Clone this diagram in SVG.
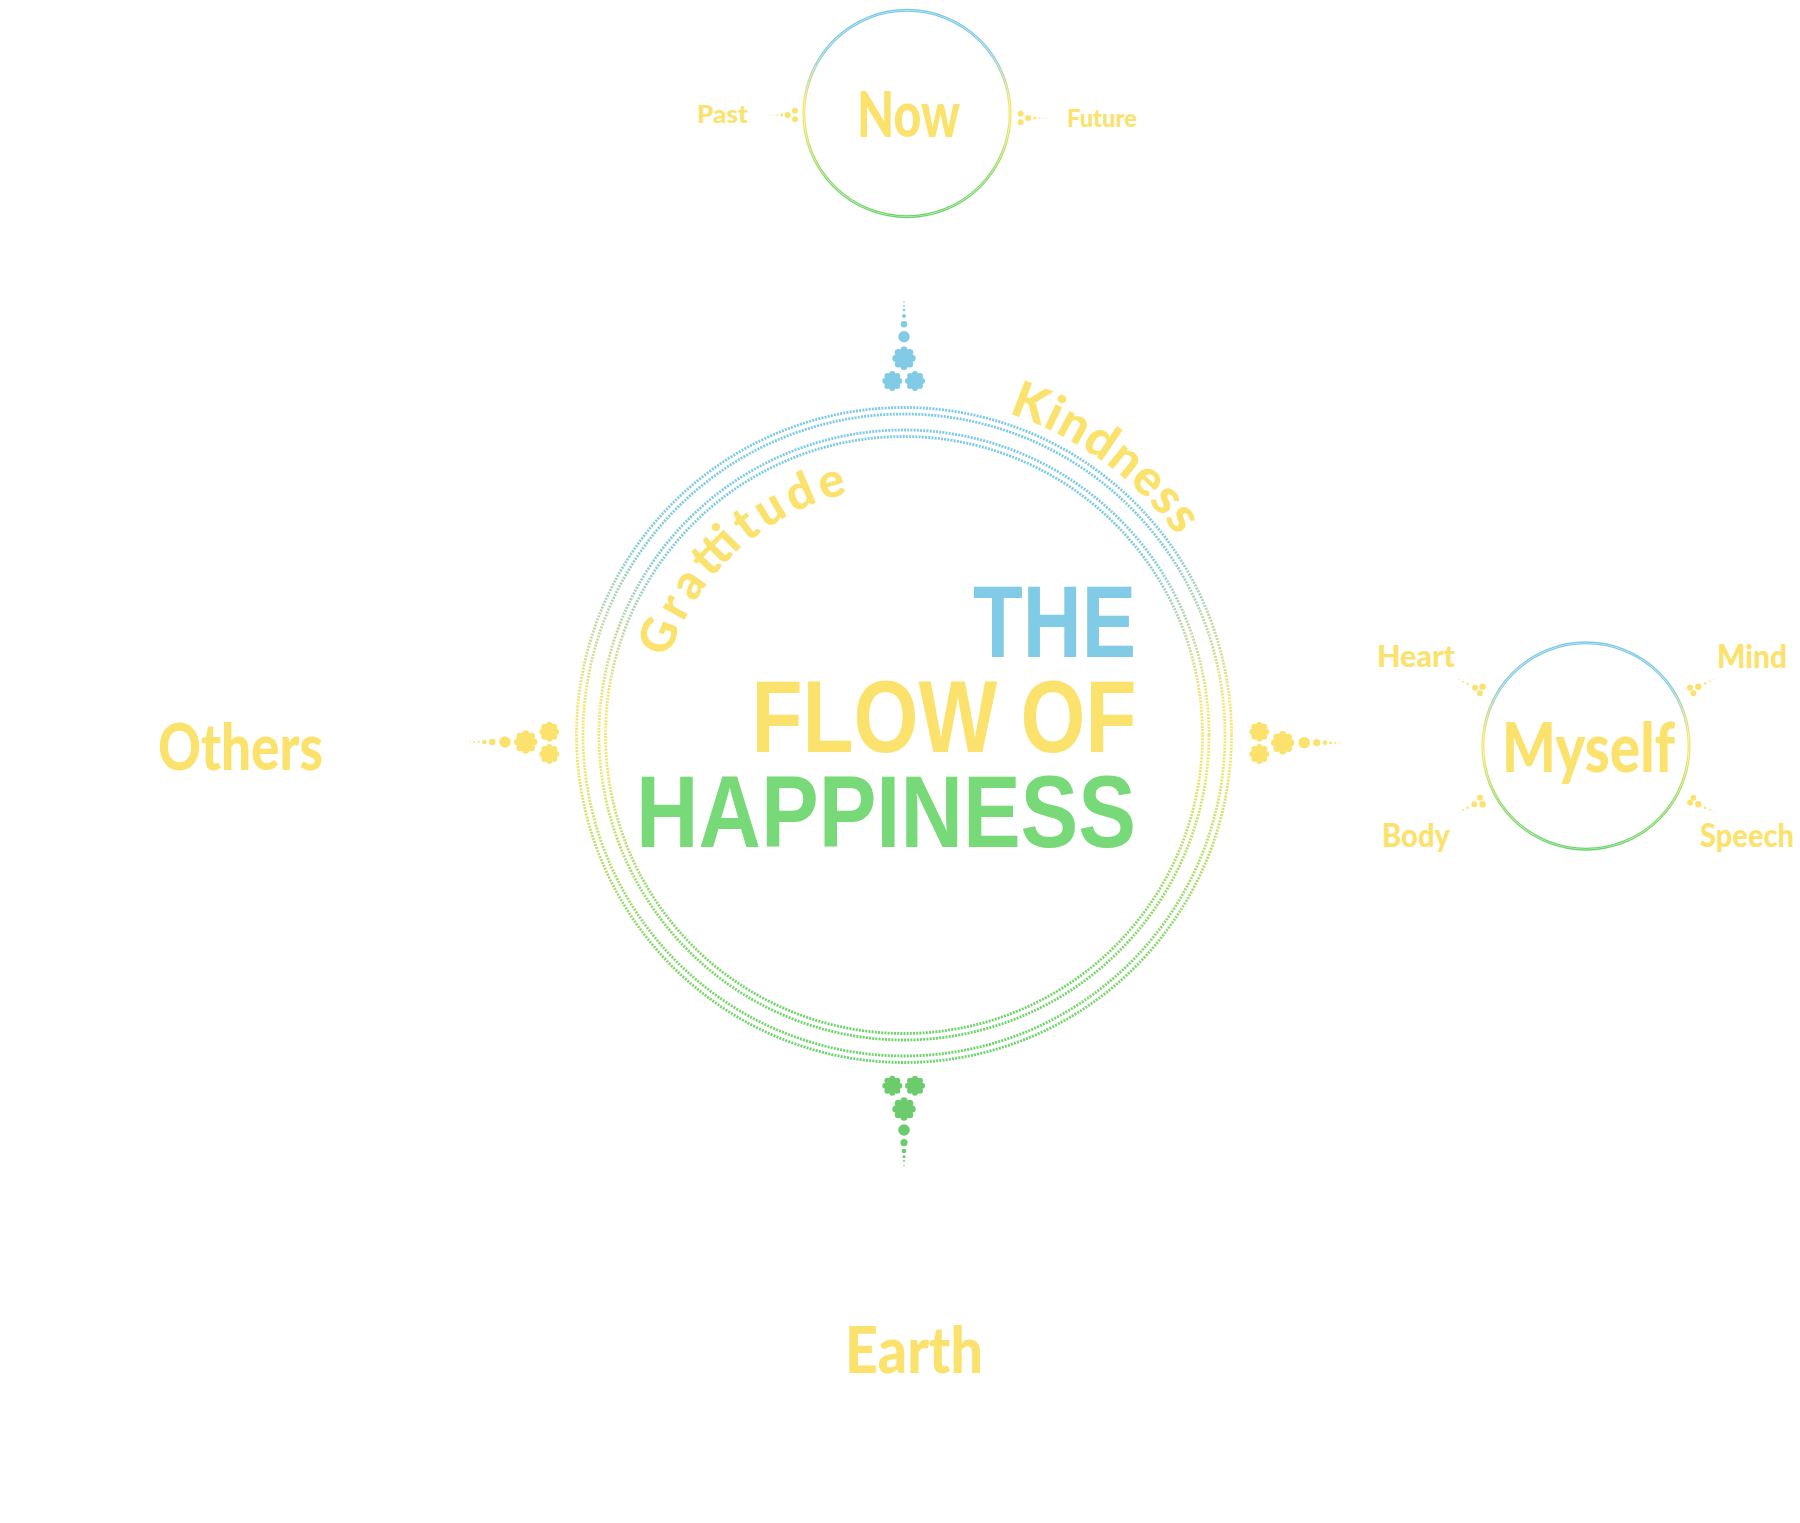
<svg xmlns="http://www.w3.org/2000/svg" xmlns:xlink="http://www.w3.org/1999/xlink" width="1800" height="1523" viewBox="0 0 1800 1523">
<style>
.hand{font-family:"Lato","Noto Sans","DejaVu Sans",sans-serif;font-weight:900;fill:#FBE26D}
.title{font-family:"Liberation Sans","Arial",sans-serif;font-weight:700;font-size:102px}
.ring{fill:none;stroke:url(#rg);stroke-width:2.8;stroke-dasharray:2 1.2}
.thin{fill:none;stroke:url(#rg);stroke-width:1.3}
.blue{fill:#82CBE6}
.yel{fill:#FBE26D}
.grn{fill:#6CCB6C}
</style>
<defs>
<linearGradient id="rg" x1="0" y1="0" x2="0" y2="1">
<stop offset="0" stop-color="#7ECAE7"/>
<stop offset="0.2" stop-color="#86CBDD"/>
<stop offset="0.45" stop-color="#F8E46C"/>
<stop offset="0.55" stop-color="#EEE66A"/>
<stop offset="0.8" stop-color="#8ED86F"/>
<stop offset="1" stop-color="#6CD46C"/>
</linearGradient>
<symbol id="fl" viewBox="-1 -1 2 2" overflow="visible">
<circle r="0.78"/>
<circle cx="0" cy="-0.7" r="0.3"/><circle cx="0.495" cy="-0.495" r="0.3"/>
<circle cx="0.7" cy="0" r="0.3"/><circle cx="0.495" cy="0.495" r="0.3"/>
<circle cx="0" cy="0.7" r="0.3"/><circle cx="-0.495" cy="0.495" r="0.3"/>
<circle cx="-0.7" cy="0" r="0.3"/><circle cx="-0.495" cy="-0.495" r="0.3"/>
</symbol>
<path id="pGrat" d="M668.1,658.4 A248,248 0 0 1 904,487"/>
<path id="pKind" d="M1008.4,413.5 A338,338 0 0 1 1236.9,676.3"/>
</defs>
<rect width="1800" height="1523" fill="#FFFFFF"/>

<g id="connectors">
<g id="c-top" class="blue">
<circle cx="904" cy="302" r="0.8"/><circle cx="904" cy="306" r="1"/><circle cx="904" cy="310" r="1.3"/>
<circle cx="904" cy="316" r="2"/><circle cx="904" cy="324.3" r="3.3"/><circle cx="904" cy="336.7" r="5.7"/>
<use href="#fl" x="892.3" y="346.6" width="23.4" height="23.4"/>
<use href="#fl" x="882.3" y="371" width="20" height="20"/>
<use href="#fl" x="905" y="371" width="20" height="20"/>
</g>
<g id="c-bottom" class="grn">
<use href="#fl" x="882.3" y="1075.7" width="20" height="20"/>
<use href="#fl" x="905" y="1075.7" width="20" height="20"/>
<use href="#fl" x="892.3" y="1097.3" width="23.4" height="23.4"/>
<circle cx="904" cy="1130" r="5.8"/><circle cx="904" cy="1142.7" r="3.6"/><circle cx="904" cy="1151" r="2.3"/>
<circle cx="904" cy="1156.7" r="1.5"/><circle cx="904" cy="1161" r="1"/><circle cx="904" cy="1165.7" r="0.7"/>
</g>
<g id="c-left" class="yel">
<circle cx="470" cy="742" r="0.7"/><circle cx="474.3" cy="742" r="0.9"/><circle cx="478.7" cy="742" r="1.1"/>
<circle cx="484.3" cy="742" r="2.3"/><circle cx="492.3" cy="742" r="3.3"/><circle cx="505" cy="742" r="5.7"/>
<use href="#fl" x="514" y="730.3" width="23.4" height="23.4"/>
<use href="#fl" x="539.3" y="721.7" width="20" height="20"/>
<use href="#fl" x="539.3" y="744" width="20" height="20"/>
</g>
<g id="c-right" class="yel">
<use href="#fl" x="1249.3" y="721.7" width="20" height="20"/>
<use href="#fl" x="1249.3" y="744" width="20" height="20"/>
<use href="#fl" x="1271" y="731" width="23.4" height="23.4"/>
<circle cx="1304.3" cy="742.7" r="5.8"/><circle cx="1316.7" cy="742.7" r="3.6"/><circle cx="1325" cy="742.7" r="2.3"/>
<circle cx="1330.7" cy="742.7" r="1.5"/><circle cx="1335" cy="742.7" r="1"/><circle cx="1339" cy="742.7" r="0.7"/>
</g>
<g id="c-past" class="yel">
<circle cx="771" cy="115" r="0.5"/><circle cx="774" cy="115" r="0.6"/><circle cx="777" cy="115" r="0.8"/>
<circle cx="781.7" cy="115" r="1.4"/><circle cx="787.7" cy="115" r="3"/>
<circle cx="795" cy="110.7" r="3"/><circle cx="795" cy="119.3" r="3"/>
</g>
<g id="c-future" class="yel">
<circle cx="1020.7" cy="113.8" r="3"/><circle cx="1020.7" cy="122.2" r="3"/>
<circle cx="1028.3" cy="118" r="3"/><circle cx="1035" cy="118" r="1.4"/>
<circle cx="1039.5" cy="118" r="0.8"/><circle cx="1043" cy="118" r="0.6"/><circle cx="1046.5" cy="118" r="0.5"/>
</g>
<g id="c-heart" class="yel">
<circle cx="1459" cy="679.6" r="0.6"/><circle cx="1463" cy="681.6" r="0.9"/><circle cx="1467.5" cy="683.8" r="1.3"/>
<circle cx="1475" cy="687.7" r="3"/><circle cx="1482.7" cy="686.7" r="3.2"/><circle cx="1480" cy="693.3" r="3"/>
</g>
<g id="c-mind" class="yel">
<circle cx="1714" cy="679.6" r="0.6"/><circle cx="1710" cy="681.4" r="0.9"/><circle cx="1705" cy="683.5" r="1.3"/>
<circle cx="1690" cy="687.7" r="3"/><circle cx="1698.3" cy="686.7" r="3.2"/><circle cx="1693.3" cy="693.3" r="3"/>
</g>
<g id="c-body" class="yel">
<circle cx="1459" cy="812" r="0.6"/><circle cx="1463" cy="810" r="0.9"/><circle cx="1467.5" cy="807.8" r="1.3"/>
<circle cx="1474.3" cy="804.3" r="3"/><circle cx="1482.7" cy="804.3" r="3.2"/><circle cx="1480" cy="797.7" r="3"/>
</g>
<g id="c-speech" class="yel">
<circle cx="1714" cy="812" r="0.6"/><circle cx="1710" cy="810" r="0.9"/><circle cx="1705" cy="807.8" r="1.3"/>
<circle cx="1690" cy="802.7" r="3"/><circle cx="1698.3" cy="804.3" r="3.2"/><circle cx="1693.3" cy="797.7" r="3"/>
</g>
</g>

<g id="node-main">
<circle class="ring" cx="904" cy="735" r="327.5"/>
<circle class="ring" cx="904" cy="735" r="321"/>
<circle class="ring" cx="904" cy="735" r="305"/>
<circle class="ring" cx="904" cy="735" r="298.5"/>
<text class="title" x="973" y="656.7" fill="#82CBE6" textLength="163" lengthAdjust="spacingAndGlyphs">THE</text>
<text class="title" x="751.5" y="752.3" fill="#FBE26D" textLength="385" lengthAdjust="spacingAndGlyphs">FLOW OF</text>
<text class="title" x="636" y="846.7" fill="#77D977" textLength="500" lengthAdjust="spacingAndGlyphs">HAPPINESS</text>
</g>
<g id="node-gratitude">
<text class="hand" font-size="48"><textPath href="#pGrat" textLength="255" lengthAdjust="spacing">Grattitude</textPath></text>
</g>
<g id="node-kindness">
<text class="hand" font-size="50"><textPath href="#pKind" textLength="212" lengthAdjust="spacing">Kindness</textPath></text>
</g>

<g id="node-now">
<circle class="thin" cx="907" cy="113.5" r="104"/>
<circle class="thin" cx="907" cy="113.5" r="102.3"/>
<text class="hand" x="857" y="137" font-size="62" textLength="103" lengthAdjust="spacingAndGlyphs">Now</text>
</g>
<g id="node-past"><text class="hand" x="697" y="123.3" font-size="24" textLength="51" lengthAdjust="spacingAndGlyphs">Past</text></g>
<g id="node-future"><text class="hand" x="1067" y="126.7" font-size="24" textLength="70" lengthAdjust="spacingAndGlyphs">Future</text></g>

<g id="node-myself">
<circle class="thin" cx="1586" cy="746" r="104"/>
<circle class="thin" cx="1586" cy="746" r="102.3"/>
<text class="hand" x="1502" y="771.7" font-size="68" textLength="173" lengthAdjust="spacingAndGlyphs">Myself</text>
</g>
<g id="node-heart"><text class="hand" x="1377" y="666.7" font-size="30" textLength="78" lengthAdjust="spacingAndGlyphs">Heart</text></g>
<g id="node-mind"><text class="hand" x="1717" y="668" font-size="32" textLength="70" lengthAdjust="spacingAndGlyphs">Mind</text></g>
<g id="node-body"><text class="hand" x="1382" y="846.7" font-size="32" textLength="68" lengthAdjust="spacingAndGlyphs">Body</text></g>
<g id="node-speech"><text class="hand" x="1700" y="846.5" font-size="32" textLength="94" lengthAdjust="spacingAndGlyphs">Speech</text></g>

<g id="node-others"><text class="hand" x="158" y="770" font-size="64" textLength="165" lengthAdjust="spacingAndGlyphs">Others</text></g>
<g id="node-earth"><text class="hand" x="845" y="1373" font-size="64" textLength="138" lengthAdjust="spacingAndGlyphs">Earth</text></g>
</svg>
